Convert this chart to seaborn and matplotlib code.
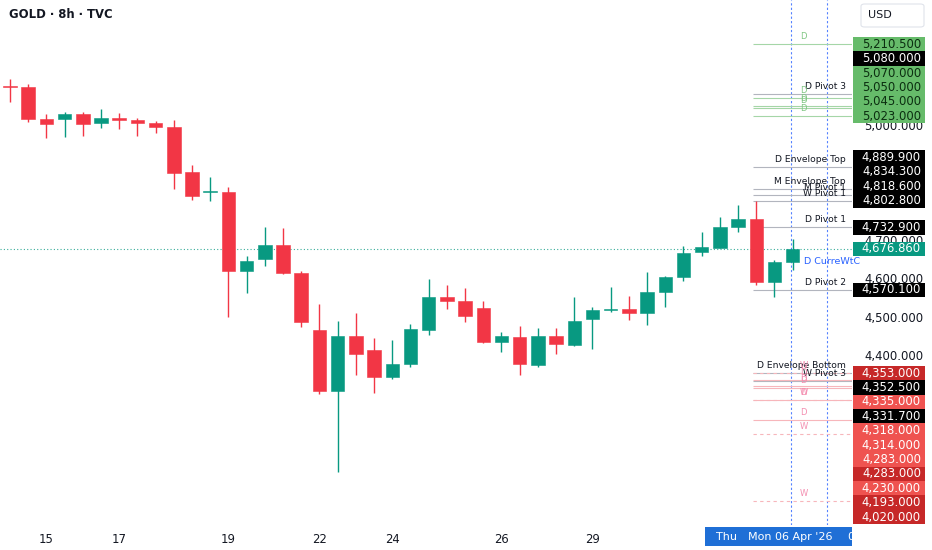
"""
GOLD 8h candlestick chart with pivot / envelope levels (TradingView-like)
"""

import numpy as np
import pandas as pd
import matplotlib
matplotlib.use('Agg')
import matplotlib.pyplot as plt
import matplotlib.transforms as mtransforms
from matplotlib.patches import Rectangle, FancyBboxPatch
import seaborn as sns

sns.set_style("white")
plt.rcParams['font.family'] = ['DejaVu Sans']

# ----------------------------------------------------------------------------
# Data
# ----------------------------------------------------------------------------
opens = [5103, 5100, 5014.9, 5014.9, 5028, 5006, 5017.8, 5013.9, 5005.3, 4994.8,
         4876.6, 4825.2, 4824.4, 4618.3, 4650.4, 4686.2, 4613.1, 4464.4, 4305.3, 4448.8,
         4412.2, 4342.6, 4377.3, 4465.2, 4550.5, 4541.6, 4521.8, 4434.7, 4447.7, 4373.9,
         4450.3, 4426, 4493.9, 4517.5, 4520, 4508.8, 4565.1, 4602.7, 4667.9, 4679.9,
         4734.7, 4756.1, 4590.4, 4643.4]
highs = [5120, 5107, 5028.7, 5034, 5034.7, 5041.8, 5030.6, 5018.3, 5010.5, 5013.1,
         4895.7, 4863.6, 4839.1, 4659, 4733.1, 4730.5, 4619.1, 4532.2, 4488.7, 4508.8,
         4444.3, 4439.1, 4480, 4598.3, 4582.6, 4575.6, 4540.9, 4460.8, 4475.6, 4469.6,
         4469.6, 4552.1, 4525.2, 4576.9, 4553.9, 4615.7, 4606.1, 4684.3, 4720.9, 4760,
         4791.3, 4801.8, 4647.8, 4701.8]
lows = [5060, 5008.6, 4966.1, 4969.5, 4972.1, 4993, 4990.4, 4972.1, 4980, 4833,
        4804.4, 4801.8, 4498.3, 4562.5, 4632.2, 4610.5, 4473.8, 4297.4, 4093.9, 4347.8,
        4301.6, 4337.3, 4367.9, 4451.4, 4519.2, 4485.3, 4432, 4408.6, 4347.8, 4367.9,
        4401.8, 4424, 4414.8, 4512.9, 4490.5, 4478.2, 4526, 4592.3, 4659, 4678,
        4720.9, 4582.6, 4550.5, 4621.7]
closes = [5100, 5016.5, 5001.9, 5028, 5001.9, 5017.8, 5013.9, 5004.5, 4995.6, 4875.6,
          4814.8, 4827, 4618.3, 4646.5, 4686.2, 4613.1, 4486.8, 4305.3, 4448.8, 4403.4,
          4342.6, 4377.3, 4467.8, 4551.3, 4541.6, 4502.5, 4434.7, 4448.8, 4377.3, 4448.8,
          4427.9, 4489.5, 4517.4, 4519, 4510.3, 4565.1, 4603.5, 4665.3, 4681.7, 4734.7,
          4755.6, 4590.4, 4642.6, 4676.86]

date_idx = [2, 6, 12, 17, 21, 27, 32]
date_labels = ['15', '17', '19', '22', '24', '26', '29']

price_ticks = [4400, 4500, 4600, 4700, 5000]
last_price = 4676.86

pivot_levels = [5080, 4889.9, 4834.3, 4818.6, 4802.8, 4732.9, 4570.1, 4352.5, 4331.7]
pivot_names = ['D Pivot 3', 'D Envelope Top', 'M Envelope Top', 'M Pivot 1', 'W Pivot 1',
               'D Pivot 1', 'D Pivot 2', 'D Envelope Bottom', 'W Pivot 3']

green_levels = [5210.5, 5070, 5050, 5045, 5023]
green_tags = ['D', 'D', 'D', 'D', 'D']

red_levels = [4353, 4335, 4318, 4314, 4283, 4283, 4230, 4193, 4020]
red_tags = ['W', 'D', 'D', 'D', 'D', 'W', 'D', 'W', 'W']

df = pd.DataFrame({'open': opens, 'high': highs, 'low': lows, 'close': closes})
df['idx'] = np.arange(len(df))
df['up'] = df['close'] >= df['open']

# ----------------------------------------------------------------------------
# Figure
# ----------------------------------------------------------------------------
W, H = 932, 550
fig = plt.figure(figsize=(W / 100, H / 100), dpi=100)
ax = fig.add_axes([0, 25 / H, 852 / W, 525 / H])

GREEN = '#089981'
RED = '#f23645'
TXT = '#131722'

ymin, ymax = 3956.5, 5326.2
ax.set_ylim(ymin, ymax)
ax.set_xlim(-0.55, 46.26)
px_per_unit = 525 / (ymax - ymin)

# candles
colors = np.where(df['up'], GREEN, RED)
ax.vlines(df['idx'], df['low'], df['high'], colors=colors, linewidth=1, zorder=2)
body_bottom = np.minimum(df['open'], df['close'])
body_height = np.maximum((df['close'] - df['open']).abs(), 1.2 / px_per_unit)
ax.bar(df['idx'], body_height, bottom=body_bottom, width=0.74, color=colors,
       edgecolor=colors, linewidth=0.4, zorder=3)

# current price dotted line
ax.axhline(last_price, color=GREEN, linestyle=(0, (1, 2)), linewidth=0.8, alpha=0.8, zorder=1)

# vertical session lines
for xv in [42.9, 44.88]:
    ax.axvline(xv, color='#2962ff', linestyle=(0, (2, 2)), linewidth=0.8, alpha=0.8, zorder=1)

# level lines
x_start, x_end = 40.8, 46.26
for lvl, name in zip(pivot_levels, pivot_names):
    ax.hlines(lvl, x_start, x_end, color='#b2b5be', linewidth=0.8, zorder=1)
    ax.text(45.93, lvl + 3 / px_per_unit, name, ha='right', va='bottom',
            fontsize=6.6, color=TXT, zorder=4)

for lvl, tag in zip(green_levels, green_tags):
    ax.hlines(lvl, x_start, x_end, color='#a5d6a7', linewidth=0.8, zorder=1)
    ax.text(43.6, lvl + 3 / px_per_unit, tag, ha='center', va='bottom',
            fontsize=6, color='#81c784', zorder=4)

for lvl, tag in zip(red_levels, red_tags):
    ls = (0, (3, 3)) if tag == 'W' else '-'
    ax.hlines(lvl, x_start, x_end, color='#f7b6bb', linewidth=0.8, linestyle=ls, zorder=1)
    ax.text(43.6, lvl + 3 / px_per_unit, tag, ha='center', va='bottom',
            fontsize=6, color='#f48fb1', zorder=4)

ax.text(43.6, last_price - 13 / px_per_unit, 'D CurreWtC', ha='left', va='center',
        fontsize=6.8, color='#2962ff', zorder=4)

# axes cosmetics
for s in ax.spines.values():
    s.set_visible(False)
ax.yaxis.tick_right()
ax.set_yticks(price_ticks)
ax.set_yticklabels([f'{v:,.3f}' for v in price_ticks])
ax.set_xticks(date_idx)
ax.set_xticklabels(date_labels)
ax.tick_params(axis='y', length=0, pad=9, labelsize=8.4, labelcolor=TXT)
ax.tick_params(axis='x', length=0, pad=6, labelsize=8.4, labelcolor=TXT)
ax.grid(False)

# ----------------------------------------------------------------------------
# Price labels on the right scale (stacked like TradingView)
# ----------------------------------------------------------------------------
styles = {
    'pivot': ('#000000', 'white'),
    'green': ('#66bb6a', '#0b2e10'),
    'D': ('#ef5350', 'white'),
    'W': ('#c62828', 'white'),
    'last': (GREEN, 'white'),
}
labels = [(v, 'pivot') for v in pivot_levels]
labels += [(v, 'green') for v in green_levels]
labels += [(v, t) for v, t in zip(red_levels, red_tags)]

step = 14.4 / px_per_unit
placed = [(last_price, last_price, 'last')]
prev = last_price
for v, kind in sorted([l for l in labels if l[0] > last_price], key=lambda l: l[0]):
    y = max(v, prev + step)
    placed.append((v, y, kind))
    prev = y
prev = last_price
for v, kind in sorted([l for l in labels if l[0] < last_price], key=lambda l: -l[0]):
    y = min(v, prev - step)
    placed.append((v, y, kind))
    prev = y

trans = mtransforms.blended_transform_factory(ax.transAxes, ax.transData)
x0 = 853 / 852
x1 = 925 / 852
for v, y, kind in placed:
    bg, fg = styles[kind]
    ax.add_patch(Rectangle((x0, y - step / 2), x1 - x0, step, transform=trans,
                           facecolor=bg, edgecolor='none', clip_on=False, zorder=5))
    ax.text(921 / 852, y, f'{v:,.3f}', transform=trans, ha='right', va='center',
            fontsize=8.4, color=fg, clip_on=False, zorder=6)

# ----------------------------------------------------------------------------
# Header, currency box, date highlight
# ----------------------------------------------------------------------------
fig.text(9 / W, 1 - 15 / H, 'GOLD · 8h · TVC', fontsize=8.4, fontweight='bold',
         color=TXT, va='center', ha='left')

usd_box = FancyBboxPatch((861 / W, 1 - 27 / H), 63 / W, 23 / H,
                         boxstyle='round,pad=0,rounding_size=0.004',
                         transform=fig.transFigure, facecolor='white',
                         edgecolor='#e0e3eb', linewidth=0.8)
fig.add_artist(usd_box)
fig.text(868 / W, 1 - 15 / H, 'USD', fontsize=8, color=TXT, va='center', ha='left')

date_box = Rectangle((705 / W, 1 - 546 / H), 147 / W, 19 / H, transform=fig.transFigure,
                     facecolor='#1f6fd6', edgecolor='none')
fig.add_artist(date_box)
fig.text(727 / W, 1 - 537 / H, 'Thu', fontsize=8, color='white', ha='center', va='center')
fig.text(790 / W, 1 - 537 / H, "Mon 06 Apr '26", fontsize=8, color='white',
         ha='center', va='center')
fig.text(847 / W, 1 - 537 / H, '0', fontsize=8, color='white', ha='left', va='center')

fig.savefig('out.png', dpi=100, facecolor='white')
